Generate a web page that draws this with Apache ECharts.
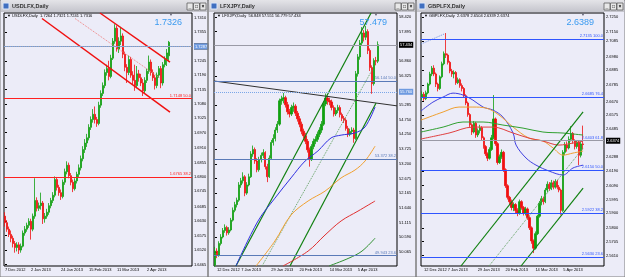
<!DOCTYPE html>
<html>
<head>
<meta charset="utf-8">
<script src="https://cdn.jsdelivr.net/npm/echarts@6/dist/echarts.min.js"></script>
<style>
html, body { margin: 0; padding: 0; background: #d4d0c8; }
#main { width: 625px; height: 277px; }
</style>
</head>
<body>
<div id="main"></div>
<script>
// ===== 数据：三张日线图（USDLFX / LFXJPY / GBPLFX） =====
// K线格式：[开, 收, 低, 高]
const ohlc1 = [
  [1.6650,1.6625,1.6610,1.6665],[1.6625,1.6600,1.6590,1.6635],[1.6600,1.6580,1.6570,1.6610],[1.6580,1.6565,1.6550,1.6595],
  [1.6565,1.6545,1.6530,1.6575],[1.6545,1.6530,1.6510,1.6555],[1.6530,1.6540,1.6515,1.6550],[1.6540,1.6520,1.6505,1.6550],
  [1.6520,1.6535,1.6510,1.6545],[1.6535,1.6585,1.6530,1.6595],[1.6585,1.6600,1.6575,1.6612],[1.6600,1.6615,1.6590,1.6625],
  [1.6615,1.6630,1.6605,1.6642],[1.6630,1.6600,1.6560,1.6640],[1.6600,1.6650,1.6592,1.6660],[1.6650,1.6710,1.6640,1.6795],
  [1.6710,1.6680,1.6668,1.6722],[1.6680,1.6690,1.6670,1.6702],[1.6690,1.6700,1.6675,1.6740],[1.6700,1.6640,1.6620,1.6708],
  [1.6640,1.6650,1.6625,1.6662],[1.6650,1.6665,1.6640,1.6678],[1.6665,1.6690,1.6655,1.6700],[1.6690,1.6710,1.6680,1.6720],
  [1.6710,1.6730,1.6700,1.6742],[1.6730,1.6790,1.6722,1.6802],[1.6790,1.6760,1.6748,1.6800],[1.6760,1.6740,1.6728,1.6770],
  [1.6740,1.6725,1.6712,1.6752],[1.6725,1.6780,1.6718,1.6790],[1.6780,1.6820,1.6770,1.6832],[1.6820,1.6845,1.6810,1.6860],
  [1.6845,1.6805,1.6795,1.6855],[1.6805,1.6780,1.6768,1.6815],[1.6780,1.6755,1.6742,1.6790],[1.6755,1.6785,1.6748,1.6795],
  [1.6785,1.6810,1.6775,1.6820],[1.6810,1.6835,1.6800,1.6848],[1.6835,1.6870,1.6825,1.6882],[1.6870,1.6905,1.6860,1.6918],
  [1.6905,1.6930,1.6892,1.6945],[1.6930,1.6950,1.6915,1.6965],[1.6950,1.6990,1.6940,1.7002],[1.6990,1.7020,1.6980,1.7032],
  [1.7020,1.7040,1.7008,1.7060],[1.7040,1.7020,1.7005,1.7070],[1.7020,1.7005,1.6992,1.7030],[1.7005,1.7075,1.6998,1.7088],
  [1.7075,1.7120,1.7065,1.7132],[1.7120,1.7150,1.7110,1.7162],[1.7150,1.7200,1.7140,1.7212],[1.7200,1.7215,1.7188,1.7230],
  [1.7215,1.7185,1.7170,1.7245],[1.7185,1.7255,1.7178,1.7268],[1.7255,1.7320,1.7248,1.7332],[1.7320,1.7370,1.7310,1.7385],
  [1.7370,1.7290,1.7280,1.7380],[1.7290,1.7320,1.7275,1.7335],[1.7320,1.7340,1.7305,1.7375],[1.7340,1.7270,1.7255,1.7350],
  [1.7270,1.7220,1.7205,1.7280],[1.7220,1.7200,1.7160,1.7232],[1.7200,1.7250,1.7190,1.7265],[1.7250,1.7190,1.7180,1.7260],
  [1.7190,1.7170,1.7155,1.7205],[1.7170,1.7150,1.7130,1.7230],[1.7150,1.7195,1.7140,1.7225],[1.7195,1.7180,1.7165,1.7210],
  [1.7180,1.7160,1.7148,1.7195],[1.7160,1.7130,1.7110,1.7175],[1.7130,1.7170,1.7120,1.7182],[1.7170,1.7205,1.7160,1.7215],
  [1.7205,1.7240,1.7195,1.7265],[1.7240,1.7200,1.7188,1.7250],[1.7200,1.7180,1.7168,1.7212],[1.7180,1.7150,1.7135,1.7190],
  [1.7150,1.7190,1.7140,1.7200],[1.7190,1.7215,1.7180,1.7225],[1.7215,1.7160,1.7140,1.7225],[1.7160,1.7230,1.7150,1.7240],
  [1.7230,1.7250,1.7220,1.7262],[1.7250,1.7275,1.7225,1.7290],[1.7264,1.7316,1.7241,1.7321]
];
const ohlc2 = [
  [49.60,50.10,49.55,50.25],[50.10,49.95,49.85,50.20],[49.95,50.37,49.90,50.45],[50.37,50.60,50.30,50.70],
  [50.60,50.83,50.55,50.92],[50.83,50.94,50.75,51.05],[50.94,50.75,50.65,51.00],[50.75,50.85,50.68,50.95],
  [50.85,51.20,50.80,51.28],[51.20,51.55,51.15,51.65],[51.55,51.75,51.48,51.85],[51.75,51.91,51.65,52.00],
  [51.91,52.45,51.85,52.55],[52.45,52.60,52.35,52.70],[52.60,52.74,52.50,52.90],[52.74,52.16,52.05,52.80],
  [52.16,52.45,52.10,52.55],[52.45,52.74,52.40,52.85],[52.74,53.55,52.70,53.65],[53.55,53.71,53.45,53.85],
  [53.71,53.30,53.20,53.78],[53.30,52.99,52.90,53.40],[52.99,53.35,52.92,53.45],[53.35,53.50,53.25,53.60],
  [53.50,53.60,53.40,53.72],[53.60,53.10,53.00,53.65],[53.10,52.74,52.55,53.20],[52.74,53.40,52.70,53.50],
  [53.40,53.96,53.35,54.05],[53.96,54.10,53.85,54.25],[54.10,54.40,54.00,54.50],[54.40,54.61,54.30,54.72],
  [54.61,55.44,54.55,55.52],[55.44,55.50,55.30,55.62],[55.50,55.55,55.35,55.72],[55.55,55.30,55.20,55.62],
  [55.30,55.05,54.95,55.40],[55.05,54.97,54.85,55.15],[54.97,55.20,54.90,55.30],[55.20,55.25,55.05,55.38],
  [55.25,55.00,54.90,55.32],[55.00,54.80,54.70,55.08],[54.80,54.61,54.50,54.90],[54.61,54.36,54.25,54.70],
  [54.36,54.20,54.10,54.45],[54.20,54.00,53.90,54.30],[54.00,53.70,53.60,54.08],[53.70,53.35,53.10,53.78],
  [53.35,53.82,53.30,53.90],[53.82,54.00,53.72,54.10],[54.00,54.07,53.90,54.18],[54.07,54.25,53.98,54.35],
  [54.25,54.40,54.15,54.50],[54.40,54.61,54.30,54.72],[54.61,55.33,54.55,55.42],[55.33,55.54,55.25,55.70],
  [55.54,55.45,55.30,55.62],[55.45,55.40,55.28,55.55],[55.40,55.20,55.10,55.48],[55.20,54.97,54.88,55.28],
  [54.97,55.10,54.90,55.20],[55.10,55.20,55.00,55.30],[55.20,54.95,54.85,55.28],[54.95,54.82,54.72,55.02],
  [54.82,54.75,54.65,54.90],[54.75,54.46,54.38,54.82],[54.46,54.25,54.15,54.55],[54.25,54.35,54.18,54.45],
  [54.35,54.40,54.25,54.50],[54.40,54.10,53.95,54.48],[54.10,56.40,54.05,56.50],[56.40,57.00,56.30,57.10],
  [57.00,57.49,56.90,57.60],[57.49,57.85,57.40,58.06],[57.85,57.70,57.55,57.95],[57.70,57.90,57.60,58.10],
  [57.90,57.23,57.10,57.98],[57.23,56.62,56.50,57.30],[56.62,56.05,55.69,56.70],[56.05,56.87,55.98,56.95],
  [56.87,56.848,56.70,57.00],[56.848,57.434,56.779,57.551]
];
const ohlc3 = [
  [2.6700,2.6720,2.6680,2.6740],[2.6720,2.6690,2.6675,2.6735],[2.6690,2.6730,2.6680,2.6745],[2.6730,2.6790,2.6720,2.6800],
  [2.6790,2.6860,2.6780,2.6875],[2.6860,2.6900,2.6845,2.6915],[2.6900,2.6860,2.6845,2.6920],[2.6860,2.6790,2.6770,2.6870],
  [2.6790,2.6760,2.6740,2.6800],[2.6760,2.6840,2.6750,2.6850],[2.6840,2.6930,2.6830,2.6945],[2.6930,2.7000,2.6920,2.7015],
  [2.7000,2.6990,2.6970,2.7142],[2.6990,2.6940,2.6925,2.7000],[2.6940,2.6880,2.6865,2.6950],[2.6880,2.6860,2.6840,2.6895],
  [2.6860,2.6870,2.6830,2.6885],[2.6870,2.6800,2.6785,2.6880],[2.6800,2.6820,2.6790,2.6835],[2.6820,2.6780,2.6765,2.6830],
  [2.6780,2.6760,2.6740,2.6795],[2.6760,2.6710,2.6695,2.6770],[2.6710,2.6660,2.6645,2.6720],[2.6660,2.6580,2.6565,2.6670],
  [2.6580,2.6510,2.6495,2.6590],[2.6510,2.6460,2.6440,2.6520],[2.6460,2.6520,2.6450,2.6535],[2.6520,2.6440,2.6420,2.6530],
  [2.6440,2.6470,2.6425,2.6485],[2.6470,2.6490,2.6450,2.6510],[2.6490,2.6420,2.6405,2.6500],[2.6420,2.6360,2.6345,2.6430],
  [2.6360,2.6310,2.6295,2.6370],[2.6310,2.6280,2.6260,2.6320],[2.6280,2.6340,2.6270,2.6355],[2.6340,2.6420,2.6330,2.6440],
  [2.6420,2.6550,2.6410,2.6715],[2.6550,2.6380,2.6365,2.6560],[2.6380,2.6250,2.6235,2.6390],[2.6250,2.6290,2.6240,2.6305],
  [2.6290,2.6320,2.6275,2.6340],[2.6320,2.6200,2.6185,2.6330],[2.6200,2.6090,2.6075,2.6210],[2.6090,2.6010,2.5995,2.6100],
  [2.6010,2.5980,2.5960,2.6020],[2.5980,2.5940,2.5920,2.5995],[2.5940,2.5960,2.5915,2.5975],[2.5960,2.5920,2.5900,2.5970],
  [2.5920,2.5900,2.5880,2.5935],[2.5900,2.5980,2.5890,2.5995],[2.5980,2.5940,2.5925,2.5990],[2.5940,2.5900,2.5885,2.5950],
  [2.5900,2.5930,2.5885,2.5945],[2.5930,2.5870,2.5855,2.5940],[2.5870,2.5800,2.5785,2.5880],[2.5800,2.5710,2.5690,2.5810],
  [2.5710,2.5660,2.5626,2.5720],[2.5660,2.5760,2.5650,2.5775],[2.5760,2.5880,2.5750,2.5890],[2.5880,2.5970,2.5870,2.5985],
  [2.5970,2.6000,2.5955,2.6020],[2.6000,2.5980,2.5960,2.6015],[2.5980,2.6060,2.5970,2.6075],[2.6060,2.6100,2.6045,2.6120],
  [2.6100,2.6070,2.6055,2.6115],[2.6070,2.6110,2.6060,2.6130],[2.6110,2.6080,2.6065,2.6125],[2.6080,2.6120,2.6070,2.6135],
  [2.6120,2.6080,2.6065,2.6130],[2.6080,2.6060,2.6045,2.6095],[2.6060,2.5920,2.5890,2.6070],[2.5920,2.6320,2.5910,2.6335],
  [2.6320,2.6370,2.6300,2.6390],[2.6370,2.6350,2.6325,2.6395],[2.6350,2.6410,2.6340,2.6430],[2.6410,2.6450,2.6395,2.6500],
  [2.6450,2.6400,2.6380,2.6460],[2.6400,2.6360,2.6340,2.6410],[2.6360,2.6390,2.6345,2.6405],[2.6390,2.6300,2.6232,2.6400],
  [2.6300,2.6378,2.6285,2.6395],[2.6378,2.6374,2.6339,2.6504]
];

// 横轴日期标签及其所在的K线序号
const dates1 = ['7 Dec 2012', '2 Jan 2013', '24 Jan 2013', '15 Feb 2013', '11 Mar 2013', '2 Apr 2013'];
const dateIdx1 = [0, 13, 28, 42, 56, 71];
const dates2 = ['12 Dec 2012', '7 Jan 2013', '29 Jan 2013', '20 Feb 2013', '14 Mar 2013', '5 Apr 2013'];
const dateIdx2 = [1, 13, 28, 42, 57, 71];
const dates3 = ['12 Dec 2012', '7 Jan 2013', '29 Jan 2013', '20 Feb 2013', '14 Mar 2013', '5 Apr 2013'];
const dateIdx3 = [1, 13, 28, 42, 57, 71];

// 右侧价格刻度
const ticks1 = [1.6465,1.6520,1.6575,1.6630,1.6685,1.6745,1.6800,1.6855,1.6910,1.6970,1.7025,1.7080,1.7135,1.7190,1.7245,1.7355,1.7410];
const ticks2 = [49.555,50.065,50.590,51.115,51.640,52.165,52.675,53.200,53.725,54.250,54.750,55.285,56.325,56.860,57.895,58.420];
const ticks3 = [2.5610,2.5705,2.5800,2.5900,2.5995,2.6090,2.6190,2.6288,2.6485,2.6575,2.6670,2.6785,2.6885,2.6980,2.7085,2.7150,2.7250];

// 斐波那契水平线 [价格, 百分比]
const fib1 = [[1.7148, '50.0'], [1.6765, '38.2']];
const fib2 = [[56.144, '50.0'], [53.372, '38.2'], [49.943, '23.6']];
const fib3 = [[2.7135, '100.0'], [2.6685, '76.4'], [2.6403, '61.8'], [2.6150, '50.0'], [2.5922, '38.2'], [2.5630, '23.6']];

// 现价 / 虚线价位 / 大字报价
const bid = [1.7316, 57.434, 2.6374];
const dotted = [1.7287, 55.760, null];
const ask = ['1.7326', '57.479', '2.6389'];
const headers = [
  'USDLFX,Daily  1.7264 1.7321 1.7241 1.7316',
  'LFXJPY,Daily  56.848 57.551 56.779 57.434',
  'GBPLFX,Daily  2.6378 2.6504 2.6339 2.6374'
];
const titles = ['USDLFX,Daily', 'LFXJPY,Daily', 'GBPLFX,Daily'];

// 趋势线（K线序号, 价格）
const red1Upper = [[47.5, 1.7428], [82.5, 1.7240]];
const red1Lower = [[18.5, 1.7407], [82.5, 1.7048]];
const red1Dot = [[35, 1.7407], [77.5, 1.7179]];
const black2 = [[-0.5, 56.144], [90.5, 55.26]];
const green2a = [[10.4, 49.57], [77.6, 58.56]];
const green2b = [[37.3, 49.57], [80.1, 55.36]];
const green2Dot = [[23.4, 49.57], [78.1, 56.53]];
const green3a = [[19.6, 2.5537], [81, 2.6598]];
const green3b = [[49.8, 2.5537], [81, 2.6074]];
const green3Dot = [[33.7, 2.5537], [81, 2.6350]];
const blue3Dot = [[-0.5, 2.7066], [11.1, 2.7135]];

// 均线（取样点）
const maBlue2 = [[10.4,49.57],[21.4,51.17],[29.8,51.98],[37.8,52.70],[44.8,53.30],[51.2,53.66],[57.7,54.12],[62.7,54.22],[69.6,54.30],[74.6,54.51],[79.6,55.22]];
const maOrange2 = [[20.4,49.57],[29.8,50.46],[37.8,51.38],[46.3,51.88],[54.7,52.23],[62.7,52.70],[69.6,52.98],[74.6,53.30],[79.6,53.83]];
const maRed2 = [[33.8,49.57],[46.3,50.10],[54.7,50.67],[62.7,51.17],[71.1,51.52],[79.6,51.88]];
const maGreen2 = [[56.7,49.57],[66.6,49.85],[73.1,50.10],[79.6,50.56]];
const maBlue3 = [[-0.5,2.6605],[5.5,2.6666],[10.6,2.6701],[15.6,2.6728],[20.6,2.6715],[25.6,2.6680],[30.7,2.6632],[35.7,2.6611],[40.7,2.6563],[45.8,2.6453],[47.3,2.6370],[52.3,2.6281],[57.3,2.6232],[63.9,2.6191],[70.9,2.6164],[75.9,2.6212],[81,2.6232]];
const maOrange3 = [[-0.5,2.6542],[10.6,2.6598],[18.6,2.6632],[25.6,2.6632],[32.2,2.6625],[38.7,2.6577],[45.8,2.6494],[53.8,2.6418],[60.8,2.6398],[65.9,2.6350],[70.9,2.6301],[75.9,2.6315],[81,2.6329]];
const maGreen3 = [[-0.5,2.6460],[10.6,2.6494],[20.6,2.6529],[30.7,2.6529],[40.7,2.6508],[50.8,2.6487],[60.8,2.6460],[70.9,2.6453],[81,2.6439]];
const maRed3 = [[-0.5,2.6412],[13.6,2.6453],[25.6,2.6494],[35.7,2.6494],[45.8,2.6453],[53.8,2.6418],[60.8,2.6398],[68.9,2.6370],[75.9,2.6384],[81,2.6398]];

// ===== 版式 =====
const UP = '#10a010', DOWN = '#f01010';
const BG = '#ececf8';
const FONT = 'Liberation Sans';
const panels = [
  { left: 4,   width: 188, count: 94, min: 1.6459, max: 1.7428, dec: 4, x0: 0,   x1: 208, fibColor: '#ff2020' },
  { left: 214, width: 183, count: 91, min: 49.57,  max: 58.56,  dec: 3, x0: 208, x1: 416, fibColor: '#5a7ab8' },
  { left: 421, width: 183, count: 92, min: 2.5537, max: 2.7280, dec: 4, x0: 416, x1: 625, fibColor: '#2f55ff' }
];
const ohlcs = [ohlc1, ohlc2, ohlc3];
const datesAll = [dates1, dates2, dates3];
const dateIdxAll = [dateIdx1, dateIdx2, dateIdx3];
const ticksAll = [ticks1, ticks2, ticks3];
const fibAll = [fib1, fib2, fib3];

const chart = echarts.init(document.getElementById('main'));

const grids = [], xAxes = [], yAxes = [], series = [], graphics = [];

panels.forEach((p, gi) => {
  grids.push({ left: p.left, top: 13, width: p.width, height: 253, show: true,
    backgroundColor: BG, borderColor: '#000', borderWidth: 1 });

  const cats = new Array(p.count).fill('');
  dateIdxAll[gi].forEach((k, j) => { cats[k] = datesAll[gi][j]; });
  xAxes.push({
    type: 'category', gridIndex: gi, data: cats, boundaryGap: true,
    axisLine: { show: false },
    axisTick: { alignWithLabel: true, length: 2, interval: (i, v) => v !== '', lineStyle: { color: '#000' } },
    axisLabel: { interval: (i, v) => v !== '', fontSize: 4, fontFamily: FONT, color: '#000', align: 'left', margin: 2 }
  });
  xAxes.push({ type: 'value', gridIndex: gi, min: -0.5, max: p.count - 0.5, show: false });

  yAxes.push({
    type: 'value', gridIndex: gi, position: 'right', min: p.min, max: p.max,
    splitLine: { show: false }, axisLine: { show: false },
    axisTick: { show: true, customValues: ticksAll[gi], length: 2, lineStyle: { color: '#000' } },
    axisLabel: { customValues: ticksAll[gi], formatter: v => v.toFixed(p.dec),
      fontSize: 4, fontFamily: FONT, color: '#000', margin: 2 }
  });

  // 水平线：斐波那契、现价、虚线价位
  const ml = fibAll[gi].map(f => ({
    yAxis: f[0],
    lineStyle: { color: p.fibColor, width: 1, type: 'solid' },
    label: { show: true, position: 'insideEndTop', distance: 1, formatter: f[0].toFixed(p.dec) + ' ' + f[1],
      color: p.fibColor, fontSize: 4, fontFamily: FONT }
  }));
  ml.push({
    yAxis: bid[gi], lineStyle: { color: '#9a9aa6', width: 1, type: 'solid' },
    label: { show: true, position: 'end', distance: 2, formatter: bid[gi].toFixed(p.dec),
      color: '#fff', backgroundColor: '#000', padding: [1, 1], fontSize: 4, fontFamily: FONT }
  });
  if (dotted[gi] !== null) {
    ml.push({
      yAxis: dotted[gi], lineStyle: { color: '#7aa6e8', width: 1, type: 'dotted' },
      label: { show: true, position: 'end', distance: 2, formatter: dotted[gi].toFixed(p.dec),
        color: '#fff', backgroundColor: '#6f9be0', padding: [1, 1], fontSize: 4, fontFamily: FONT }
    });
  }

  series.push({
    type: 'candlestick', xAxisIndex: gi * 2, yAxisIndex: gi, data: ohlcs[gi],
    barWidth: 1.8, barMinWidth: 1.8, animation: false,
    itemStyle: { color: UP, color0: DOWN, borderColor: UP, borderColor0: DOWN, borderWidth: 0.8 },
    markLine: { symbol: 'none', silent: true, animation: false, data: ml },
    z: 3
  });

  // 窗口外框、标题栏
  const w = p.x1 - p.x0;
  graphics.push(
    { type: 'rect', shape: { x: p.x0, y: 0, width: w, height: 277 }, style: { fill: 'none', stroke: '#7d7d7d', lineWidth: 1 }, z: 10 },
    { type: 'rect', shape: { x: p.x0 + 1, y: 0, width: w - 2, height: 12 },
      style: { fill: new echarts.graphic.LinearGradient(0, 0, 0, 1, [{ offset: 0, color: '#e4e4e8' }, { offset: 1, color: '#c4c4cc' }]) }, z: 10 },
    { type: 'rect', shape: { x: p.x0 + 3, y: 3, width: 6, height: 6 }, style: { fill: '#3f6fc0', stroke: '#dfe8f8', lineWidth: 1 }, z: 11 },
    { type: 'text', x: p.x0 + 12, y: 6, style: { text: titles[gi], font: 'bold 5.5px "Liberation Sans"', fill: '#303030', verticalAlign: 'middle' }, z: 11 },
    { type: 'text', x: p.left + 3, y: 16, style: { text: '\u25bc ' + headers[gi], font: '4px "Liberation Sans"', fill: '#000', verticalAlign: 'middle' }, z: 11 },
    { type: 'text', x: p.left + p.width - 10, y: 23, style: { text: ask[gi], font: '9px "Liberation Sans"', fill: '#3a9af0', align: 'right', verticalAlign: 'middle' }, z: 11 },
    { type: 'text', x: p.left + p.width - 21, y: 14.5, style: { text: '\u25bc', font: '4px "Liberation Sans"', fill: '#606070', align: 'center', verticalAlign: 'middle' }, z: 11 }
  );
  ['_', '\u25a1', '\u00d7'].forEach((g, k) => {
    const bx = p.x1 - 21 + k * 6.5;
    graphics.push(
      { type: 'rect', shape: { x: bx, y: 3, width: 6, height: 7 }, style: { fill: '#e8e8e8', stroke: '#606060', lineWidth: 0.8 }, z: 11 },
      { type: 'text', x: bx + 3, y: 6.5, style: { text: g, font: 'bold 5px "Liberation Sans"', fill: '#000', align: 'center', verticalAlign: 'middle' }, z: 12 }
    );
  });
});

// 线型系列（挂在隐藏的数值横轴上）
function seg(gi, data, color, width, type, smooth) {
  series.push({
    type: 'line', xAxisIndex: gi * 2 + 1, yAxisIndex: gi, data: data,
    symbol: 'none', smooth: smooth ? 0.35 : false, silent: true, animation: false,
    lineStyle: { color: color, width: width, type: type }, z: 4
  });
}
seg(0, red1Upper, '#f01010', 1.5, 'solid');
seg(0, red1Lower, '#f01010', 1.5, 'solid');
seg(0, red1Dot, '#f08080', 1, 'dotted');
seg(1, black2, '#303030', 1, 'solid');
seg(1, green2a, '#108010', 1.2, 'solid');
seg(1, green2b, '#108010', 1.2, 'solid');
seg(1, green2Dot, '#60a060', 1, 'dotted');
seg(1, maBlue2, '#3030e0', 1, 'solid', true);
seg(1, maOrange2, '#f0a030', 1, 'solid', true);
seg(1, maRed2, '#e03030', 1, 'solid', true);
seg(1, maGreen2, '#309030', 1, 'solid', true);
seg(2, blue3Dot, '#6f8fe0', 1, 'dotted');
seg(2, maBlue3, '#4040e0', 1, 'solid', true);
seg(2, maOrange3, '#f0a030', 1, 'solid', true);
seg(2, maGreen3, '#30a030', 1, 'solid', true);
seg(2, maRed3, '#e04040', 1, 'solid', true);
seg(2, green3a, '#108010', 1.2, 'solid');
seg(2, green3b, '#108010', 1.2, 'solid');
seg(2, green3Dot, '#60a060', 1, 'dotted');

chart.setOption({
  backgroundColor: BG,
  animation: false,
  grid: grids,
  xAxis: xAxes,
  yAxis: yAxes,
  series: series,
  graphic: graphics
});
</script>
</body>
</html>
